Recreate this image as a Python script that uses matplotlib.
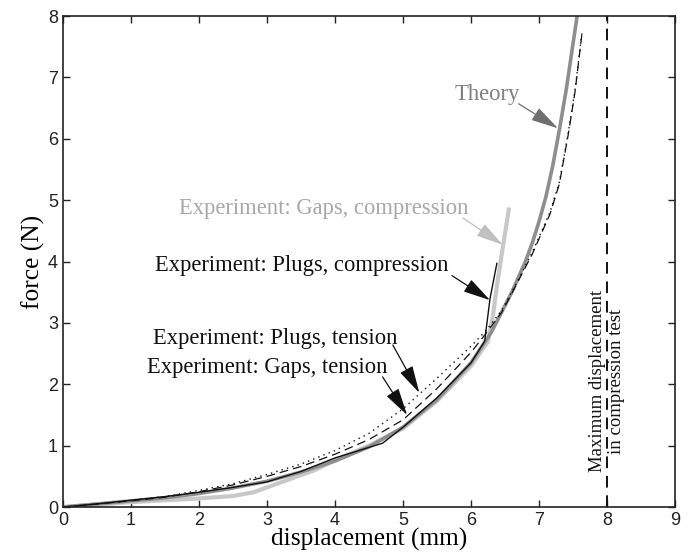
import numpy as np
import matplotlib
matplotlib.use("Agg")
import matplotlib.pyplot as plt

# values
theory_x = [0, 0.5, 1, 1.5, 2, 2.5, 3, 3.5, 4, 4.5, 5, 5.5, 6, 6.3, 6.6, 6.8, 6.9, 7.0, 7.1, 7.2, 7.3, 7.4, 7.5, 7.56]
theory_y = [0, 0.05, 0.1, 0.15, 0.22, 0.31, 0.42, 0.57, 0.75, 0.98, 1.3, 1.75, 2.35, 2.85, 3.5, 4.0, 4.3, 4.65, 5.05, 5.55, 6.15, 6.8, 7.55, 8.0]

plugs_comp_x = [0, 0.5, 1, 1.5, 2, 2.5, 3, 3.5, 4, 4.7, 5, 5.5, 6, 6.2, 6.28, 6.38]
plugs_comp_y = [0, 0.05, 0.11, 0.17, 0.24, 0.32, 0.41, 0.58, 0.8, 1.04, 1.3, 1.78, 2.35, 2.7, 3.4, 3.97]

gaps_comp_x = [0, 0.5, 1, 1.5, 2, 2.5, 2.8, 3.1, 3.4, 3.7, 4, 4.5, 5, 5.5, 6, 6.25, 6.32, 6.38, 6.47, 6.56]
gaps_comp_y = [0, 0.04, 0.08, 0.11, 0.14, 0.18, 0.24, 0.36, 0.48, 0.6, 0.76, 1.0, 1.28, 1.73, 2.3, 2.7, 3.1, 3.6, 4.25, 4.88]

plugs_ten_x = [0, 0.5, 1, 1.5, 2, 2.5, 3, 3.5, 4, 4.5, 5, 5.5, 6, 6.2, 6.45, 6.67, 6.9, 7.16, 7.3, 7.43, 7.53, 7.63]
plugs_ten_y = [0, 0.05, 0.11, 0.17, 0.27, 0.38, 0.53, 0.7, 0.92, 1.2, 1.6, 2.1, 2.62, 2.85, 3.2, 3.65, 4.15, 4.8, 5.3, 6.1, 6.8, 7.72]

gaps_ten_x = [0, 0.5, 1, 1.5, 2, 2.5, 3, 3.5, 4, 4.5, 5, 5.5, 6, 6.2, 6.45, 6.67, 6.9, 7.16, 7.3, 7.43, 7.53, 7.63]
gaps_ten_y = [0, 0.05, 0.1, 0.16, 0.25, 0.36, 0.5, 0.66, 0.86, 1.1, 1.42, 1.93, 2.52, 2.8, 3.17, 3.63, 4.12, 4.77, 5.27, 6.07, 6.77, 7.7]

max_disp = 8

serif = "Liberation Serif"
sans = "Liberation Sans"

fig = plt.figure(figsize=(6.92, 5.6), dpi=100)
ax = fig.add_axes([0.091, 0.0946, 0.8845, 0.8768])

ax.plot(gaps_comp_x, gaps_comp_y, color="#c8c8c8", lw=3.0, solid_capstyle="butt")
ax.plot(theory_x, theory_y, color="#8e8e8e", lw=2.6)
ax.plot(plugs_comp_x, plugs_comp_y, color="#111111", lw=1.0)
ax.plot(plugs_ten_x, plugs_ten_y, color="#111111", lw=1.0, linestyle=(0, (1, 3)))
ax.plot(gaps_ten_x, gaps_ten_y, color="#111111", lw=0.9, linestyle=(0, (7, 4)))
ax.axvline(max_disp, color="#111111", lw=1.4, linestyle=(0, (6, 4)))

ax.set_xlim(0, 9)
ax.set_ylim(0, 8)
ax.set_xticks(range(0, 10))
ax.set_yticks(range(0, 9))
ax.tick_params(direction="in", top=True, right=True, length=5, width=1.0,
               labelsize=13, colors="#222222")
for lab in ax.get_xticklabels() + ax.get_yticklabels():
    lab.set_fontfamily(sans)
for sp in ax.spines.values():
    sp.set_linewidth(1.2)
    sp.set_color("#222222")

ax.set_xlabel("displacement (mm)", fontfamily=serif, fontsize=18.3, labelpad=-1)
ax.set_ylabel("force (N)", fontfamily=serif, fontsize=18.3, labelpad=2)

def note(txt, pos, start, tip, col, acol):
    ax.text(pos[0], pos[1], txt, ha="center", va="center", fontfamily=serif,
            fontsize=16.3, color=col)
    ax.annotate("", xy=tip, xytext=start,
                arrowprops=dict(arrowstyle="-|>,head_length=0.85,head_width=0.22",
                                mutation_scale=20, color=acol, lw=0.9,
                                shrinkA=0, shrinkB=0))

note("Theory", (6.24, 6.72), (6.70, 6.57), (7.28, 6.17), "#808080", "#6e6e6e")
note("Experiment: Gaps, compression", (3.83, 4.87), (5.88, 4.71), (6.47, 4.27), "#a8a8a8", "#c0c0c0")
note("Experiment: Plugs, compression", (3.51, 3.94), (5.72, 3.77), (6.28, 3.37), "#111111", "#111111")
note("Experiment: Plugs, tension", (3.12, 2.75), (4.85, 2.64), (5.24, 1.86), "#111111", "#111111")
note("Experiment: Gaps, tension", (3.0, 2.28), (4.70, 2.12), (5.06, 1.50), "#111111", "#111111")

ax.text(max_disp, 2.05, "Maximum displacement\nin compression test", rotation=90,
        ha="center", va="center", fontfamily=serif, fontsize=13.5, color="#111111",
        linespacing=1.1)

fig.savefig("out.png", dpi=100)
